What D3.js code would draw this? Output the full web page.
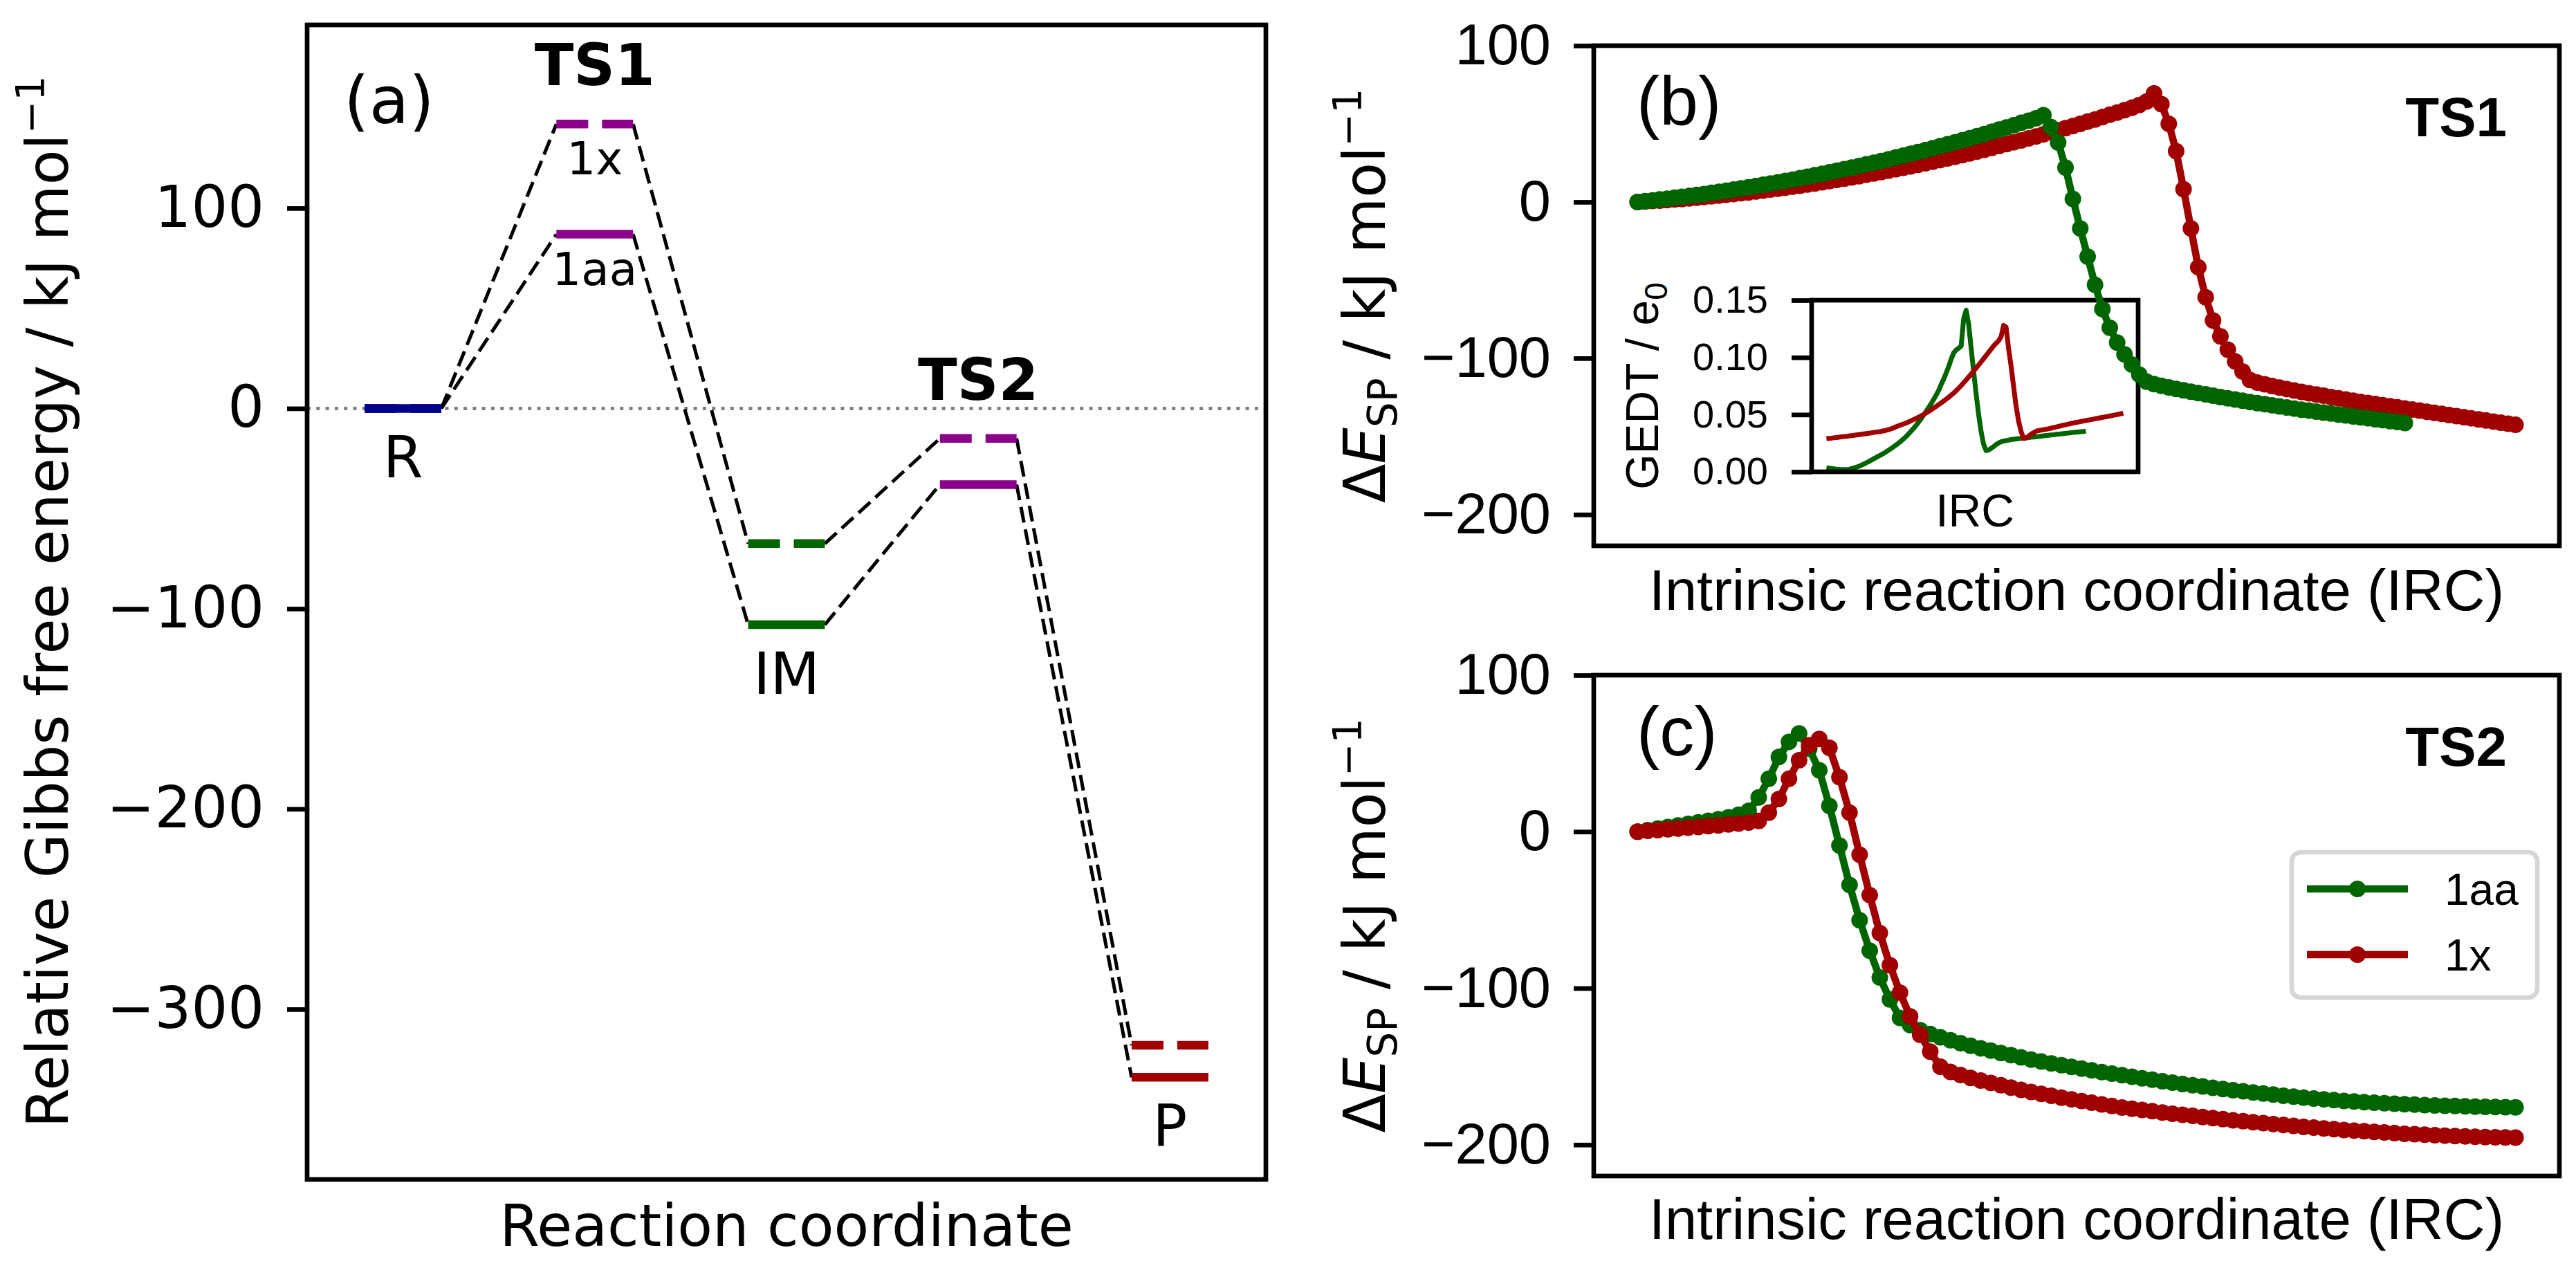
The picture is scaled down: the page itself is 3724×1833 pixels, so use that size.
<!DOCTYPE html>
<html>
<head>
<meta charset="utf-8">
<script src="https://cdn.jsdelivr.net/npm/d3@7"></script>
<style>
body { margin: 0; background: white; }
</style>
</head>
<body>
<script>
// ---------- data ----------
// (a) free energy profile
var stages = ['R', 'TS1', 'IM', 'TS2', 'P'];
var g1x = [0, 142, -67.5, -15, -318];
var g1aa = [0, 87, -108, -38, -334];
var stageColors = ['#00008b', '#8b008b', '#006400', '#8b008b', '#a00000'];
var gTicks = [100, 0, -100, -200, -300];

// (b) IRC through TS1, single point energies
var ts1_1aa = [0, 0.5, 1.0, 1.6, 2.1, 2.7, 3.3, 3.9, 4.5, 5.1,
    5.8, 6.5, 7.2, 7.9, 8.7, 9.4, 10.2, 11.0, 11.8, 12.6,
    13.5, 14.3, 15.2, 16.1, 17.1, 18.0, 19.0, 20.0, 21.0, 22.0,
    23.0, 24.1, 25.1, 26.2, 27.3, 28.5, 29.6, 30.8, 32.0, 33.2,
    34.4, 35.7, 36.9, 38.2, 39.5, 40.8, 42.1, 43.5, 44.9, 46.3,
    47.7, 49.1, 50.6, 52.0, 53.5, 55.5,
    48, 38, 22, 2, -17, -35, -53, -68.5, -80.5, -90, -97.5, -104, -110.5, -115,
    -116.5, -117.6, -118.6, -119.6, -120.5, -121.4, -122.3, -123.1, -124.0, -124.8,
    -125.6, -126.4, -127.2, -128.0, -128.7, -129.4, -130.1, -130.8, -131.5, -132.2,
    -132.9, -133.5, -134.1, -134.8, -135.4, -136.0, -136.6, -137.2, -137.8, -138.4,
    -139.0, -139.6, -140.2, -140.8, -141.4];
var ts1_1x = [0, 0.3, 0.6, 0.9, 1.2, 1.6, 1.9, 2.3, 2.7, 3.2,
    3.6, 4.1, 4.6, 5.1, 5.6, 6.1, 6.7, 7.3, 7.9, 8.5,
    9.1, 9.8, 10.4, 11.1, 11.8, 12.6, 13.3, 14.1, 14.9, 15.7,
    16.5, 17.4, 18.2, 19.1, 20.0, 20.9, 21.9, 22.8, 23.8, 24.8,
    25.8, 26.8, 27.9, 28.9, 30.0, 31.1, 32.3, 33.4, 34.6, 35.8,
    37.0, 38.2, 39.4, 40.7, 41.9, 43.2, 44.6, 45.9, 47.2, 48.6,
    50.0, 51.4, 52.8, 54.3, 55.8, 57.2, 58.7, 60.3, 62.0, 64.3,
    69.5,
    62.6, 50, 32.5, 8.2, -17, -41.8, -61, -75.8, -86, -94.5, -102, -108.5, -113.9,
    -115.5, -116.7, -117.8, -118.8, -119.7, -120.6, -121.5, -122.4, -123.2, -124.0,
    -124.8, -125.6, -126.4, -127.2, -127.9, -128.6, -129.3, -130.0, -130.7, -131.4,
    -132.1, -132.8, -133.5, -134.2, -134.9, -135.6, -136.3, -137.0, -137.7, -138.4,
    -139.1, -139.8, -140.5, -141.2, -141.9, -142.6];

// (b) inset, GEDT along the same IRC
var gedt_1aa = [0.0035, 0.0032, 0.0029, 0.0026, 0.0023, 0.0021, 0.0020, 0.0020, 0.0020, 0.0022,
    0.0027, 0.0034, 0.0041, 0.0048, 0.0058, 0.0068, 0.0079, 0.0090, 0.0102, 0.0114,
    0.0126, 0.0138, 0.0149, 0.0162, 0.0176, 0.0190, 0.0205, 0.0220, 0.0236, 0.0253,
    0.0271, 0.0290, 0.0310, 0.0333, 0.0357, 0.0382, 0.0408, 0.0436, 0.0466, 0.0497,
    0.0530, 0.0563, 0.0597, 0.0634, 0.0672, 0.0712, 0.0765, 0.0810, 0.0865, 0.0920,
    0.0985, 0.1040, 0.1065, 0.1080, 0.1100, 0.1340, 0.1413, 0.1290, 0.1080, 0.0880,
    0.0680, 0.0500, 0.0350, 0.0240, 0.0185, 0.0190, 0.0205, 0.0220, 0.0238, 0.0252,
    0.0262, 0.0268, 0.0273, 0.0277, 0.0281, 0.0284, 0.0287, 0.0290, 0.0292, 0.0295,
    0.0297, 0.0299, 0.0302, 0.0304, 0.0307, 0.0309, 0.0312, 0.0314, 0.0317, 0.0319,
    0.0322, 0.0324, 0.0327, 0.0329, 0.0332, 0.0334, 0.0337, 0.0339, 0.0342, 0.0344,
    0.0346, 0.0348, 0.0350, 0.0352, 0.0355];
var gedt_1x = [0.0289, 0.0292, 0.0294, 0.0297, 0.0300, 0.0302, 0.0305, 0.0308, 0.0310, 0.0313,
    0.0316, 0.0319, 0.0322, 0.0325, 0.0328, 0.0331, 0.0334, 0.0337, 0.0340, 0.0344,
    0.0347, 0.0350, 0.0354, 0.0358, 0.0363, 0.0369, 0.0377, 0.0385, 0.0394, 0.0403,
    0.0411, 0.0419, 0.0427, 0.0437, 0.0447, 0.0457, 0.0467, 0.0478, 0.0490, 0.0502,
    0.0515, 0.0528, 0.0542, 0.0557, 0.0572, 0.0588, 0.0603, 0.0619, 0.0635, 0.0652,
    0.0671, 0.0688, 0.0709, 0.0731, 0.0754, 0.0779, 0.0803, 0.0829, 0.0855, 0.0881,
    0.0907, 0.0934, 0.0961, 0.0989, 0.1017, 0.1045, 0.1072, 0.1100, 0.1124, 0.1145,
    0.1180, 0.1280, 0.1265, 0.1080, 0.0925, 0.0750, 0.0575, 0.0445, 0.0355, 0.0292,
    0.0295, 0.0310, 0.0328, 0.0342, 0.0354, 0.0360, 0.0364, 0.0368, 0.0372, 0.0376,
    0.0381, 0.0386, 0.0391, 0.0397, 0.0402, 0.0407, 0.0412, 0.0417, 0.0422, 0.0427,
    0.0431, 0.0435, 0.0440, 0.0444, 0.0448, 0.0452, 0.0456, 0.0460, 0.0465, 0.0469,
    0.0473, 0.0477, 0.0481, 0.0485, 0.0490, 0.0494, 0.0498, 0.0502, 0.0507, 0.0512];

// (c) IRC through TS2
var ts2_1aa = [0, 1.0, 2.0, 3.0, 4.0, 5.0, 6.0, 7.0, 8.0, 9.2, 10.8,
    13.3, 21.9, 33.8, 47.7, 57.4, 62.8, 53, 39.2, 16.5, -8.8, -34, -56.6, -76, -93.2, -107.2, -119,
    -123.5, -126.8, -129.3, -131.4, -133.3, -135.1, -136.8, -138.4, -139.9, -141.4, -142.8, -144.2, -145.6, -146.9,
    -148.1, -149.2, -150.3, -151.4, -152.5, -153.6, -154.6, -155.6, -156.6, -157.6,
    -158.5, -159.4, -160.3, -161.2, -162.0, -162.8, -163.6, -164.4, -165.2, -165.9,
    -166.6, -167.3, -168.0, -168.7, -169.3, -169.9, -170.5, -171.0, -171.5, -172.0,
    -172.4, -172.8, -173.2, -173.5, -173.8, -174.1, -174.4, -174.7, -174.9, -175.1,
    -175.3, -175.5, -175.7, -175.8, -175.9, -176.0, -176.1];
var ts2_1x = [0, 0.5, 1.0, 1.5, 2.0, 2.5, 3.0, 3.5, 4.0, 4.6, 5.2, 5.8,
    6.8, 12.2, 20.9, 33.8, 45.6, 55.3, 59.2, 53.6, 34.8, 12.2, -14.7, -40.5, -64.8, -85.3, -102.9, -118.0, -129.8, -140.6, -150.2,
    -153.5, -155.5, -157.3, -159.0, -160.5, -162.0, -163.5, -165.0, -166.3, -167.5,
    -168.7, -169.9, -171.0, -172.1, -173.2, -174.3, -175.3, -176.2, -177.0, -177.8,
    -178.6, -179.4, -180.2, -180.9, -181.6, -182.3, -183.0, -183.7, -184.4, -185.0,
    -185.6, -186.2, -186.8, -187.4, -188.0, -188.6, -189.1, -189.6, -190.1, -190.6,
    -191.0, -191.4, -191.8, -192.2, -192.6, -193.0, -193.3, -193.6, -193.9, -194.2,
    -194.5, -194.7, -194.9, -195.1, -195.3, -195.4, -195.5];

var seriesNames = ['1aa', '1x'];
var seriesColors = ['#006400', '#a00000'];
var ircTicks = [100, 0, -100, -200];
var gedtTicks = [0, 0.05, 0.10, 0.15];

// ---------- page ----------
var dejavu = '"DejaVu Sans", sans-serif';
var arial = '"Liberation Sans", Arial, sans-serif';
var spine = 6.7;

var svg = d3.select('body').append('svg')
    .attr('width', 3724)
    .attr('height', 1833)
    .style('background', 'white');

// ======== (a) ========
var xA = d3.scaleLinear().domain([-0.5, 4.5]).range([444, 1830]);
var yA = d3.scaleLinear().domain([-385, 191.5]).range([1705, 36]);
var hw = 0.2; // half width of a level bar

svg.append('line')
    .attr('x1', 444).attr('x2', 1830)
    .attr('y1', yA(0)).attr('y2', yA(0))
    .attr('stroke', 'gray')
    .attr('stroke-width', 5)
    .attr('stroke-dasharray', '5,8.3');

[g1x, g1aa].forEach(function(vals){
    svg.selectAll(null)
        .data(d3.pairs(vals))
        .enter()
        .append('line')
        .attr('x1', function(d, i){ return xA(i + hw); })
        .attr('y1', function(d){ return yA(d[0]); })
        .attr('x2', function(d, i){ return xA(i + 1 - hw); })
        .attr('y2', function(d){ return yA(d[1]); })
        .attr('stroke', 'black')
        .attr('stroke-width', 5)
        .attr('stroke-dasharray', '23,10');
});

// dashed = 1x, solid = 1aa
svg.selectAll(null)
    .data(g1x)
    .enter()
    .append('line')
    .attr('x1', function(d, i){ return xA(i - hw); })
    .attr('x2', function(d, i){ return xA(i + hw); })
    .attr('y1', function(d){ return yA(d); })
    .attr('y2', function(d){ return yA(d); })
    .attr('stroke', function(d, i){ return stageColors[i]; })
    .attr('stroke-width', 12.5)
    .attr('stroke-dasharray', '46,20');

svg.selectAll(null)
    .data(g1aa)
    .enter()
    .append('line')
    .attr('x1', function(d, i){ return xA(i - hw); })
    .attr('x2', function(d, i){ return xA(i + hw); })
    .attr('y1', function(d){ return yA(d); })
    .attr('y2', function(d){ return yA(d); })
    .attr('stroke', function(d, i){ return stageColors[i]; })
    .attr('stroke-width', 12.5);

// stage names: TS above, minima below
stages.forEach(function(s, i){
    var isTS = s.indexOf('TS') === 0;
    svg.append('text')
        .attr('x', xA(i))
        .attr('y', isTS ? yA(Math.max(g1x[i], g1aa[i])) - 56 : yA(Math.min(g1x[i], g1aa[i])) + 100)
        .attr('text-anchor', 'middle')
        .attr('font-family', dejavu)
        .attr('font-size', 83)
        .attr('font-weight', isTS ? 'bold' : 'normal')
        .text(s);
});
svg.append('text')
    .attr('x', xA(1)).attr('y', yA(g1x[1]) + 73)
    .attr('text-anchor', 'middle')
    .attr('font-family', dejavu).attr('font-size', 66)
    .text(seriesNames[1]);
svg.append('text')
    .attr('x', xA(1)).attr('y', yA(g1aa[1]) + 73)
    .attr('text-anchor', 'middle')
    .attr('font-family', dejavu).attr('font-size', 66)
    .text(seriesNames[0]);

var axA = svg.append('g')
    .attr('transform', 'translate(444,0)')
    .call(d3.axisLeft(yA).tickValues(gTicks).tickSize(29).tickPadding(33));
axA.select('.domain').remove();
axA.selectAll('line').attr('stroke-width', spine);
axA.selectAll('text').attr('font-family', dejavu).attr('font-size', 83);

svg.append('rect')
    .attr('x', 444).attr('y', 36)
    .attr('width', 1386).attr('height', 1669)
    .attr('fill', 'none')
    .attr('stroke', 'black')
    .attr('stroke-width', spine);

svg.append('text')
    .attr('x', 497).attr('y', 178)
    .attr('font-family', dejavu).attr('font-size', 94)
    .text('(a)');

svg.append('text')
    .attr('x', 1137).attr('y', 1801)
    .attr('text-anchor', 'middle')
    .attr('font-family', dejavu).attr('font-size', 83)
    .text('Reaction coordinate');

var ylabA = svg.append('text')
    .attr('transform', 'translate(98,870) rotate(-90)')
    .attr('text-anchor', 'middle')
    .attr('font-family', dejavu).attr('font-size', 83);
ylabA.append('tspan').text('Relative Gibbs free energy / kJ mol');
ylabA.append('tspan').attr('font-size', 57).attr('dy', -34).text('\u22121');

// ======== helpers for (b) and (c) ========
function frame(x0, y0, x1, y1){
    svg.append('rect')
        .attr('x', x0).attr('y', y0)
        .attr('width', x1 - x0).attr('height', y1 - y0)
        .attr('fill', 'none')
        .attr('stroke', 'black')
        .attr('stroke-width', spine);
}

function energyAxis(ys, x0){
    var ax = svg.append('g')
        .attr('transform', 'translate(' + x0 + ',0)')
        .call(d3.axisLeft(ys).tickValues(ircTicks).tickSize(29).tickPadding(33));
    ax.select('.domain').remove();
    ax.selectAll('line').attr('stroke-width', spine);
    ax.selectAll('text').attr('font-family', arial).attr('font-size', 83);
}

function energyLabel(cy){
    var t = svg.append('text')
        .attr('transform', 'translate(2002,' + cy + ') rotate(-90)')
        .attr('text-anchor', 'middle')
        .attr('font-family', dejavu).attr('font-size', 83);
    t.append('tspan').text('\u0394');
    t.append('tspan').attr('font-style', 'italic').text('E');
    t.append('tspan').attr('font-size', 58).attr('dy', 17).text('SP');
    t.append('tspan').attr('dy', -17).text(' / kJ mol');
    t.append('tspan').attr('font-size', 57).attr('dy', -34).text('\u22121');
}

function ircCurve(vals, color, xs, ys){
    var line = d3.line()
        .x(function(d, i){ return xs(i); })
        .y(function(d){ return ys(d); });
    svg.append('path')
        .datum(vals)
        .attr('d', line)
        .attr('fill', 'none')
        .attr('stroke', color)
        .attr('stroke-width', 10.5)
        .attr('stroke-linejoin', 'round');
    svg.selectAll(null)
        .data(vals)
        .enter()
        .append('circle')
        .attr('cx', function(d, i){ return xs(i); })
        .attr('cy', function(d){ return ys(d); })
        .attr('r', 12)
        .attr('fill', color);
}

// ======== (b) ========
var nB = ts1_1x.length - 1;
var xB = d3.scaleLinear().domain([-0.05 * nB, 1.05 * nB]).range([2304, 3700]);
var yB = d3.scaleLinear().domain([-220, 100]).range([789, 66]);

// inset first, main curves run over it
var xI = d3.scaleLinear().domain([-0.05 * nB, 1.05 * nB]).range([2619, 3091]);
var yI = d3.scaleLinear().domain([0, 0.15]).range([682, 434]);

svg.append('rect')
    .attr('x', 2619).attr('y', 434)
    .attr('width', 472).attr('height', 248)
    .attr('fill', 'white');

var gedtLine = d3.line()
    .x(function(d, i){ return xI(i); })
    .y(function(d){ return yI(d); });
[gedt_1aa, gedt_1x].forEach(function(vals, k){
    svg.append('path')
        .datum(vals)
        .attr('d', gedtLine)
        .attr('fill', 'none')
        .attr('stroke', seriesColors[k])
        .attr('stroke-width', 7)
        .attr('stroke-linejoin', 'round');
});

var axI = svg.append('g')
    .attr('transform', 'translate(2619,0)')
    .call(d3.axisLeft(yI).tickValues(gedtTicks).tickFormat(d3.format('.2f')).tickSize(29).tickPadding(34));
axI.select('.domain').remove();
axI.selectAll('line').attr('stroke-width', spine);
axI.selectAll('text').attr('font-family', arial).attr('font-size', 56);

frame(2619, 434, 3091, 682);

svg.append('text')
    .attr('x', 2855).attr('y', 761)
    .attr('text-anchor', 'middle')
    .attr('font-family', arial).attr('font-size', 66)
    .text('IRC');

var ylabI = svg.append('text')
    .attr('transform', 'translate(2397,558) rotate(-90)')
    .attr('text-anchor', 'middle')
    .attr('font-family', arial).attr('font-size', 66);
ylabI.append('tspan').text('GEDT / e');
ylabI.append('tspan').attr('font-size', 46).attr('dy', 13).text('0');

ircCurve(ts1_1x, seriesColors[1], xB, yB);
ircCurve(ts1_1aa, seriesColors[0], xB, yB);

energyAxis(yB, 2304);
frame(2304, 66, 3700, 789);
energyLabel(427.5);

svg.append('text')
    .attr('x', 2366).attr('y', 181)
    .attr('font-family', arial).attr('font-size', 100)
    .text('(b)');
svg.append('text')
    .attr('x', 3624).attr('y', 197)
    .attr('text-anchor', 'end')
    .attr('font-family', arial).attr('font-size', 80).attr('font-weight', 'bold')
    .text('TS1');
svg.append('text')
    .attr('x', 3002).attr('y', 882)
    .attr('text-anchor', 'middle')
    .attr('font-family', arial).attr('font-size', 83)
    .text('Intrinsic reaction coordinate (IRC)');

// ======== (c) ========
var nC = ts2_1x.length - 1;
var xC = d3.scaleLinear().domain([-0.05 * nC, 1.05 * nC]).range([2304, 3700]);
var yC = d3.scaleLinear().domain([-220, 100]).range([1700, 976]);

ircCurve(ts2_1aa, seriesColors[0], xC, yC);
ircCurve(ts2_1x, seriesColors[1], xC, yC);

energyAxis(yC, 2304);
frame(2304, 976, 3700, 1700);
energyLabel(1338);

svg.append('text')
    .attr('x', 2366).attr('y', 1092)
    .attr('font-family', arial).attr('font-size', 100)
    .text('(c)');
svg.append('text')
    .attr('x', 3624).attr('y', 1107)
    .attr('text-anchor', 'end')
    .attr('font-family', arial).attr('font-size', 80).attr('font-weight', 'bold')
    .text('TS2');
svg.append('text')
    .attr('x', 3002).attr('y', 1791)
    .attr('text-anchor', 'middle')
    .attr('font-family', arial).attr('font-size', 83)
    .text('Intrinsic reaction coordinate (IRC)');

// legend
svg.append('rect')
    .attr('x', 3313).attr('y', 1232)
    .attr('width', 355).attr('height', 210)
    .attr('rx', 13)
    .attr('fill', 'white').attr('fill-opacity', 0.8)
    .attr('stroke', '#d6d6d6')
    .attr('stroke-width', spine);

var leg = svg.selectAll('g.leg')
    .data(seriesNames)
    .enter()
    .append('g')
    .attr('class', 'leg')
    .attr('transform', function(d, i){ return 'translate(0,' + (1285 + i * 95) + ')'; });
leg.append('line')
    .attr('x1', 3335).attr('x2', 3481)
    .attr('stroke', function(d, i){ return seriesColors[i]; })
    .attr('stroke-width', 10.5);
leg.append('circle')
    .attr('cx', 3408).attr('r', 12)
    .attr('fill', function(d, i){ return seriesColors[i]; });
leg.append('text')
    .attr('x', 3534).attr('y', 23)
    .attr('font-family', arial).attr('font-size', 64)
    .text(function(d){ return d; });
</script>
</body>
</html>
